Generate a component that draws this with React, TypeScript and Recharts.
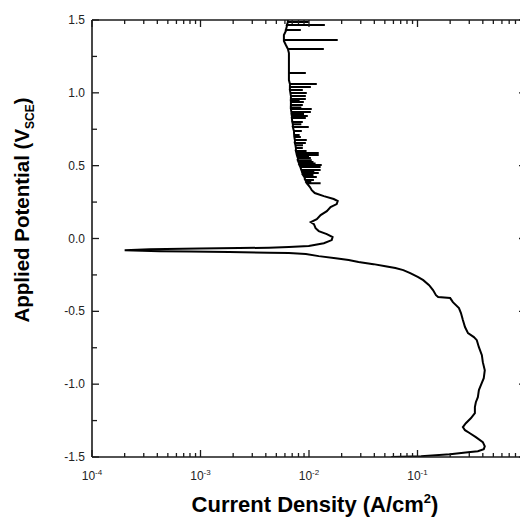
import React from 'react';
import { LineChart, Line, XAxis, YAxis } from 'recharts';

// Potentiodynamic sweep (potential in V vs SCE, current density in A/cm2).
// Cathodic branch, from -1.5 V up to the corrosion potential.
const cathodicPotential = [
  -1.5, -1.494, -1.481, -1.467, -1.46, -1.446, -1.426, -1.398, -1.364, -1.337,
  -1.316, -1.295, -1.268, -1.234, -1.199, -1.158, -1.124, -1.089, -1.041, -1.007,
  -0.959, -0.904, -0.849, -0.801, -0.746, -0.698, -0.677, -0.65, -0.608, -0.56,
  -0.512, -0.478, -0.437, -0.409, -0.402, -0.389, -0.354, -0.32, -0.286, -0.265,
  -0.238, -0.217, -0.203, -0.19, -0.176, -0.162, -0.148, -0.135, -0.121, -0.107,
  -0.1, -0.097, -0.093, -0.09, -0.087, -0.08,
];
const cathodicCurrent = [
  0.0574, 0.108, 0.2, 0.292, 0.36, 0.408, 0.417, 0.4, 0.345, 0.304,
  0.274, 0.262, 0.279, 0.31, 0.338, 0.338, 0.345, 0.36, 0.368, 0.384,
  0.408, 0.417, 0.4, 0.392, 0.368, 0.352, 0.331, 0.292, 0.274, 0.262,
  0.2515, 0.241, 0.212, 0.2, 0.155, 0.148, 0.139, 0.128, 0.113, 0.1015,
  0.0857, 0.074, 0.0625, 0.0506, 0.0393, 0.0286, 0.0232, 0.0176, 0.0123, 0.00935,
  0.00653, 0.00428, 0.00184, 0.00079, 0.00042, 0.0002,
];

// Anodic branch (smooth trace), from the corrosion potential up to 1.5 V
const anodicPotential = [
  -0.073, -0.069, -0.066, -0.063, -0.059, -0.052, -0.032, -0.011, 0.01, 0.03,
  0.051, 0.071, 0.099, 0.113, 0.133, 0.161, 0.188, 0.216, 0.236, 0.257,
  0.271, 0.291, 0.312, 0.332, 0.353, 1.088, 1.177, 1.225, 1.273, 1.328,
  1.356, 1.397, 1.424, 1.459, 1.5,
];
const anodicCurrent = [
  0.00034, 0.00098, 0.00227, 0.00428, 0.00653, 0.00995, 0.0137, 0.0162, 0.0165, 0.0146,
  0.0123, 0.0115, 0.0111, 0.0104, 0.0118, 0.0128, 0.0146, 0.0158, 0.018, 0.0184,
  0.0169, 0.0137, 0.0113, 0.0106, 0.0102, 0.00653, 0.00653, 0.00653, 0.00653, 0.00612,
  0.00587, 0.00587, 0.00612, 0.00626, 0.00639,
];

// Current noise in the passive region: potential, trace level and spike tip
const spikePotential = [
  0.38, 0.392, 0.401, 0.422, 0.436, 0.449, 0.46, 0.47, 0.49, 0.504,
  0.515, 0.525, 0.538, 0.552, 0.563, 0.573, 0.587, 0.6, 0.621, 0.64,
  0.655, 0.676, 0.696, 0.71, 0.738, 0.765, 0.785, 0.799, 0.827, 0.841,
  0.855, 0.868, 0.889, 0.9, 0.916, 0.937, 0.95, 0.957, 0.978, 0.999,
  1.019, 1.04, 1.06, 1.136, 1.301, 1.363, 1.431, 1.466, 1.486,
];
const spikeBase = [
  0.00954, 0.0094, 0.00925, 0.00905, 0.0088, 0.00868, 0.0086, 0.0085, 0.00832, 0.00815,
  0.0081, 0.008, 0.00789, 0.00789, 0.0078, 0.00773, 0.00765, 0.00757, 0.00757, 0.0075,
  0.00741, 0.00741, 0.00733, 0.0073, 0.00726, 0.0071, 0.0071, 0.00702, 0.00695, 0.00695,
  0.0069, 0.00688, 0.00681, 0.0068, 0.00681, 0.00681, 0.0068, 0.00681, 0.00681, 0.00674,
  0.00667, 0.00667, 0.00667, 0.00653, 0.00639, 0.00587, 0.00612, 0.00626, 0.00639,
];
const spikeCurrent = [
  0.0128, 0.0105, 0.0111, 0.0118, 0.011, 0.0123, 0.0112, 0.0128, 0.0128, 0.0131,
  0.0115, 0.011, 0.0106, 0.0104, 0.01, 0.0123, 0.0123, 0.0095, 0.00877, 0.0088,
  0.00935, 0.00954, 0.00841, 0.0082, 0.00859, 0.00995, 0.0085, 0.00877, 0.00935, 0.00975,
  0.009, 0.0104, 0.0106, 0.0085, 0.00877, 0.00896, 0.0082, 0.00935, 0.00935, 0.00954,
  0.00877, 0.0104, 0.0118, 0.00935, 0.0137, 0.0184, 0.00841, 0.014, 0.00995,
];

const decadeTicks = [1e-4, 1e-3, 1e-2, 1e-1, 1];
const decadeExponents = ['-4', '-3', '-2', '-1', '0'];
const minorMultipliers = [2, 3, 4, 5, 6, 7, 8, 9];
const potentialTicks = [-1.5, -1.25, -1, -0.75, -0.5, -0.25, 0, 0.25, 0.5, 0.75, 1, 1.25, 1.5];

const tracePoints = [...cathodicPotential, ...anodicPotential].map((e, k) => [
  { e, i: [...cathodicCurrent, ...anodicCurrent][k] },
]);
const spikePoints = spikePotential.map((e, k) => [
  { e, i: spikeBase[k] },
  { e, i: spikeCurrent[k] },
  { e, i: spikeBase[k] },
]);
const data = [...tracePoints, ...spikePoints].sort((a, b) => a[0].e - b[0].e).flat();

const currentTicks = decadeTicks.flatMap((d, k) =>
  k < decadeTicks.length - 1 ? [d, ...minorMultipliers.map((m) => d * m)] : [d]
);

const FONT = '"Liberation Sans", Arial, sans-serif';
const AXIS = '#1a1a1a';
const TEXT = '#222';

const decadeIndex = (v: number) => decadeTicks.findIndex((d) => Math.abs(v / d - 1) < 1e-6);
const isHalf = (v: number) => Math.abs(v * 2 - Math.round(v * 2)) < 1e-6;

function BottomTick({ x, y, payload }: any) {
  const k = decadeIndex(payload.value);
  // the 10^0 label sits past the right edge of the picture
  const showLabel = k >= 0 && k < decadeTicks.length - 1;
  return (
    <g>
      <line x1={x} x2={x} y1={y} y2={y - (k >= 0 ? 7 : 4)} stroke={AXIS} strokeWidth={1.3} />
      {showLabel && (
        <text x={x} y={y + 23} textAnchor="middle" fontSize={12} fill={TEXT} fontFamily={FONT}>
          10
          <tspan dy={-5} fontSize={8}>
            {decadeExponents[k]}
          </tspan>
        </text>
      )}
    </g>
  );
}

function TopTick({ x, y, payload }: any) {
  const k = decadeIndex(payload.value);
  return <line x1={x} x2={x} y1={y} y2={y + (k >= 0 ? 7 : 4)} stroke={AXIS} strokeWidth={1.3} />;
}

function LeftTick({ x, y, payload }: any) {
  const major = isHalf(payload.value);
  return (
    <g>
      <line x1={x} x2={x + (major ? 7 : 5)} y1={y} y2={y} stroke={AXIS} strokeWidth={1.3} />
      {major && (
        <text x={x - 7} y={y + 4} textAnchor="end" fontSize={12} fill={TEXT} fontFamily={FONT}>
          {payload.value.toFixed(1)}
        </text>
      )}
    </g>
  );
}

function RightTick({ x, y, payload }: any) {
  const major = isHalf(payload.value);
  return <line x1={x} x2={x - (major ? 7 : 5)} y1={y} y2={y} stroke={AXIS} strokeWidth={1.3} />;
}

function XTitle({ viewBox }: any) {
  return (
    <text x={viewBox.x + viewBox.width / 2 + 6} y={viewBox.y + 55} textAnchor="middle" fontSize={22} fontWeight="bold" fill="#000" fontFamily={FONT}>
      Current Density (A/cm
      <tspan dy={-9} fontSize={13}>2</tspan>
      <tspan dy={9}>)</tspan>
    </text>
  );
}

function YTitle() {
  const cx = 29;
  const cy = 210;
  return (
    <text x={cx} y={cy} transform={`rotate(-90 ${cx} ${cy})`} textAnchor="middle" fontSize={20.5} fontWeight="bold" fill="#000" fontFamily={FONT}>
      Applied Potential (V
      <tspan dy={5} fontSize={12}>SCE</tspan>
      <tspan dy={-5}>)</tspan>
    </text>
  );
}

export default function App() {
  return (
    <div style={{ position: 'absolute', left: 0, top: 0, width: 520, height: 518, overflow: 'hidden', background: '#fff' }}>
      <LineChart width={560} height={518} data={data} margin={{ top: 0, right: 0, bottom: 0, left: 0 }}>
        <XAxis
          xAxisId="bottom"
          dataKey="i"
          type="number"
          scale="log"
          domain={[1e-4, 1]}
          allowDataOverflow
          ticks={currentTicks}
          interval={0}
          height={61}
          tickSize={0}
          tickMargin={0}
          tick={<BottomTick />}
          stroke={AXIS}
          strokeWidth={1.6}
          label={<XTitle />}
        />
        <XAxis
          xAxisId="top"
          orientation="top"
          dataKey="i"
          type="number"
          scale="log"
          domain={[1e-4, 1]}
          allowDataOverflow
          ticks={currentTicks}
          interval={0}
          height={20}
          tickSize={0}
          tickMargin={0}
          tick={<TopTick />}
          stroke={AXIS}
          strokeWidth={1.6}
        />
        <YAxis
          yAxisId="left"
          dataKey="e"
          type="number"
          domain={[-1.5, 1.5]}
          allowDataOverflow
          ticks={potentialTicks}
          interval={0}
          width={92}
          tickSize={0}
          tickMargin={0}
          tick={<LeftTick />}
          stroke={AXIS}
          strokeWidth={1.6}
          label={<YTitle />}
        />
        <YAxis
          yAxisId="right"
          orientation="right"
          type="number"
          domain={[-1.5, 1.5]}
          allowDataOverflow
          ticks={potentialTicks}
          interval={0}
          width={34}
          tickSize={0}
          tickMargin={0}
          tick={<RightTick />}
          stroke={AXIS}
          strokeWidth={1.6}
        />
        <Line
          xAxisId="bottom"
          yAxisId="left"
          dataKey="e"
          type="linear"
          stroke="#000"
          strokeWidth={2}
          dot={false}
          isAnimationActive={false}
        />
      </LineChart>
    </div>
  );
}
